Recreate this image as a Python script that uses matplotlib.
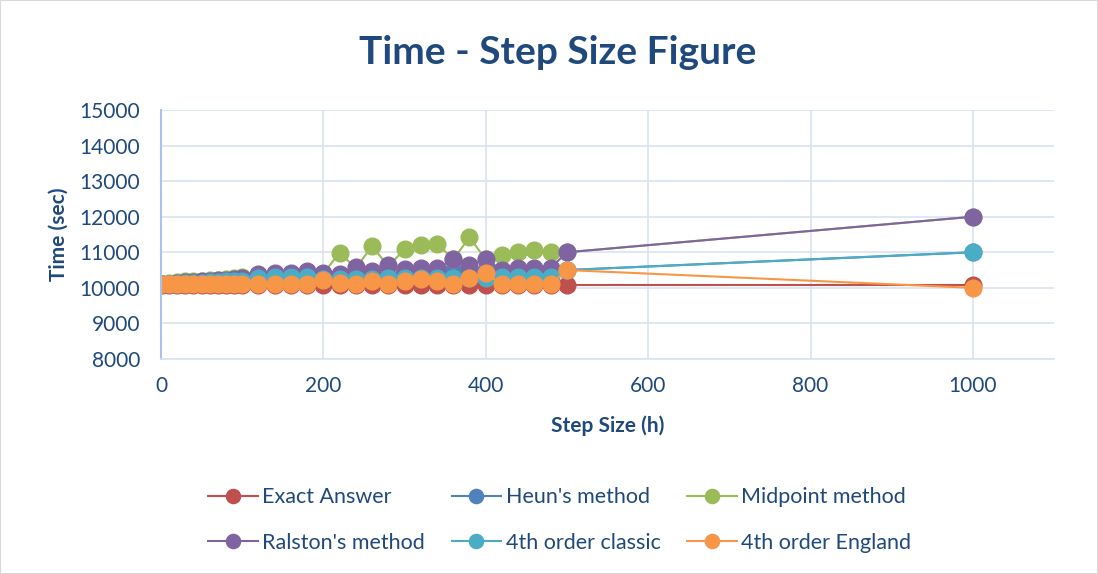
import matplotlib.pyplot as plt
from matplotlib.patches import Rectangle

# step sizes (h)
step = [1, 10, 20, 30, 40, 50, 60, 70, 80, 90, 100,
        120, 140, 160, 180, 200, 220, 240, 260, 280, 300,
        320, 340, 360, 380, 400, 420, 440, 460, 480, 500, 1000]

exact = [10080] * 32
heun = [10100, 10110, 10130, 10150, 10160, 10170, 10180, 10200, 10210, 10230, 10250,
        10300, 10310, 10320, 10330, 10340, 10350, 10370, 10400, 10410, 10420,
        10450, 10450, 10460, 10450, 10500, 10500, 10500, 10500, 10500, 10500, 11000]
midpoint = [10100, 10130, 10160, 10180, 10190, 10200, 10210, 10230, 10250, 10270, 10310,
            10350, 10370, 10380, 10420, 10400, 10990, 10550, 11180, 10600, 11090,
            11210, 11240, 10800, 11420, 10800, 10930, 11020, 11050, 11020, 11000, 12000]
ralston = [10100, 10120, 10140, 10160, 10170, 10180, 10200, 10210, 10230, 10250, 10270,
           10400, 10410, 10420, 10480, 10420, 10390, 10580, 10460, 10640, 10520,
           10550, 10550, 10800, 10640, 10800, 10500, 10550, 10560, 10560, 11000, 12000]
classic = [10100, 10110, 10120, 10130, 10140, 10150, 10160, 10170, 10180, 10190, 10200,
           10270, 10300, 10300, 10300, 10250, 10250, 10260, 10260, 10270, 10270,
           10280, 10280, 10280, 10290, 10290, 10300, 10300, 10300, 10300, 10500, 11000]
england = [10100] * 15 + [10230, 10130, 10100, 10180, 10100, 10200,
                          10240, 10200, 10100, 10270, 10410, 10100, 10100, 10100, 10100, 10500, 10000]

series = [
    ("Exact Answer", exact, "#C0504D"),
    ("Heun's method", heun, "#4F81BD"),
    ("Midpoint method", midpoint, "#9BBB59"),
    ("Ralston's method", ralston, "#8064A2"),
    ("4th order classic", classic, "#4BACC6"),
    ("4th order England", england, "#F79646"),
]

text_col = "#1F497D"
grid_col = "#D9E3F1"

plt.rcParams["font.family"] = ["Lato", "DejaVu Sans"]

fig = plt.figure(figsize=(10.98, 5.74), dpi=100)
fig.patches.append(Rectangle((0, 0), 1, 1, transform=fig.transFigure, fill=False,
                             edgecolor="#D9D9D9", linewidth=1.5))
ax = fig.add_axes([0.1466, 0.3746, 0.8134, 0.4338])

handles = {}
for name, vals, col in series:
    h, = ax.plot(step, vals, color=col, linewidth=1.5, marker="o", markersize=12,
                 markerfacecolor=col, markeredgecolor=col, label=name)
    handles[name] = h

ax.set_xlim(0, 1100)
ax.set_ylim(8000, 15000)
ax.set_xticks(range(0, 1001, 200))
ax.set_yticks(range(8000, 15001, 1000))
ax.grid(True, color=grid_col, linewidth=1.2)
ax.set_axisbelow(True)
for s in ["top", "right"]:
    ax.spines[s].set_visible(False)
ax.spines["left"].set_color("#A9C4E8")
ax.spines["bottom"].set_color(grid_col)
ax.spines["left"].set_linewidth(1.5)
ax.spines["bottom"].set_linewidth(1.2)
ax.tick_params(length=0, labelsize=15, labelcolor=text_col)
ax.tick_params(axis="y", pad=15)
ax.tick_params(axis="x", pad=12)

ax.set_xlabel("Step Size (h)", fontsize=15, fontweight="bold", color=text_col, labelpad=14)
ax.set_ylabel("Time (sec)", fontsize=15, fontweight="bold", color=text_col, labelpad=8)
fig.text(0.508, 0.908, "Time - Step Size Figure", ha="center", va="center",
         fontsize=28, fontweight="bold", color=text_col)

order = ["Exact Answer", "Ralston's method", "Heun's method",
         "4th order classic", "Midpoint method", "4th order England"]
leg = fig.legend([handles[n] for n in order], order, ncol=3, loc="center left",
                 bbox_to_anchor=(0.172, 0.094), frameon=False, fontsize=15.5,
                 handlelength=2.3, labelspacing=1.2, columnspacing=1.25,
                 handletextpad=0.2, markerscale=0.85)
for t in leg.get_texts():
    t.set_color(text_col)

fig.savefig("out.png", dpi=100)
